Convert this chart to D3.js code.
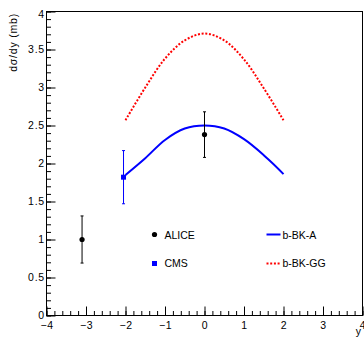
<!DOCTYPE html>
<html><head><meta charset="utf-8">
<script src="https://cdn.jsdelivr.net/npm/d3@7"></script>
<style>
html,body{margin:0;padding:0;background:#fff;}
svg{display:block;}
text{font-family:"Liberation Sans",Arial,sans-serif;fill:#000;}
</style></head>
<body>
<svg id="c" width="364" height="339"></svg>
<script>
// ---- data ----
const curveX = [-2, -1.5, -1, -0.5, 0, 0.5, 1, 1.5, 2];
const bkA    = [1.85, 2.07, 2.31, 2.46, 2.50, 2.46, 2.32, 2.11, 1.86];
const bkGG   = [2.57, 3.00, 3.38, 3.62, 3.71, 3.62, 3.37, 2.99, 2.57];
const aliceX = [-3.1, 0];
const aliceY = [1.0, 2.38];
const aliceErr = [0.31, 0.30];
const cmsX = [-2.05];
const cmsY = [1.82];
const cmsErr = [0.35];
const xTicks = [-4, -3, -2, -1, 0, 1, 2, 3, 4];
const yTicks = [0, 0.5, 1, 1.5, 2, 2.5, 3, 3.5, 4];
const legendNames = ["ALICE", "CMS", "b-BK-A", "b-BK-GG"];

const svg = d3.select("#c");
const x = d3.scaleLinear().domain([-4, 4]).range([46.5, 362.5]);
const y = d3.scaleLinear().domain([0, 4]).range([315.5, 11.5]);

// frame
svg.append("rect").attr("x", x(-4)).attr("y", y(4))
  .attr("width", x(4) - x(-4)).attr("height", y(0) - y(4))
  .attr("fill", "none").attr("stroke", "#000").attr("stroke-width", 1);

// minor ticks
const xMinor = d3.range(-4, 4.001, 0.2).map(v => +v.toFixed(2));
const yMinor = d3.range(0, 4.001, 0.1).map(v => +v.toFixed(2));
svg.append("g").attr("transform", `translate(0,${y(0)})`)
  .call(d3.axisBottom(x).tickValues(xMinor).tickSize(-4.5).tickFormat(""))
  .call(g => g.select(".domain").remove())
  .call(g => g.selectAll("line").attr("stroke", "#000"));
svg.append("g").attr("transform", `translate(${x(-4)},0)`)
  .call(d3.axisLeft(y).tickValues(yMinor).tickSize(-4.5).tickFormat(""))
  .call(g => g.select(".domain").remove())
  .call(g => g.selectAll("line").attr("stroke", "#000"));

// major ticks + labels
const fmtX = d => (d < 0 ? "\u2212" + Math.abs(d) : "" + d);
svg.append("g").attr("transform", `translate(0,${y(0)})`)
  .call(d3.axisBottom(x).tickValues(xTicks).tickSize(-9).tickPadding(5.5).tickFormat(fmtX))
  .call(g => g.select(".domain").remove())
  .call(g => g.selectAll("line").attr("stroke", "#000"))
  .call(g => g.selectAll("text").attr("font-size", "10.5px").attr("letter-spacing", "0.6px")
    .attr("font-family", '"Liberation Sans",Arial,sans-serif').attr("fill", "#000").attr("dy", "0.75em"));
svg.append("g").attr("transform", `translate(${x(-4)},0)`)
  .call(d3.axisLeft(y).tickValues(yTicks).tickSize(-9).tickPadding(1.5).tickFormat(d => "" + d))
  .call(g => g.select(".domain").remove())
  .call(g => g.selectAll("line").attr("stroke", "#000"))
  .call(g => g.selectAll("text").attr("font-size", "10.5px").attr("letter-spacing", "0.8px")
    .attr("font-family", '"Liberation Sans",Arial,sans-serif').attr("fill", "#000")
    .attr("dy", d => d === 4 ? "0.55em" : "0.32em"));

// axis titles
svg.append("text").attr("transform", "translate(17,13) rotate(-90)")
  .attr("text-anchor", "end").attr("font-size", "10.5px").attr("letter-spacing", "0.8px")
  .text("d\u03c3/dy (mb)");
svg.append("text").attr("x", 361).attr("y", 335).attr("text-anchor", "end")
  .attr("font-size", "10.5px").text("y");

// curves
const line = d3.line().x(d => x(d[0])).y(d => y(d[1])).curve(d3.curveCatmullRom);
svg.append("path").datum(curveX.map((v, i) => [v, bkGG[i]])).attr("d", line)
  .attr("fill", "none").attr("stroke", "#ff0000").attr("stroke-width", 2)
  .attr("stroke-dasharray", "2 1.7");
svg.append("path").datum(curveX.map((v, i) => [v, bkA[i]])).attr("d", line)
  .attr("fill", "none").attr("stroke", "#0000ff").attr("stroke-width", 2);

// CMS points
cmsX.forEach((v, i) => {
  const cx = x(v), cy = y(cmsY[i]);
  const g = svg.append("g").attr("stroke", "#0000ff").attr("stroke-width", 1);
  g.append("line").attr("x1", cx).attr("x2", cx).attr("y1", y(cmsY[i] + cmsErr[i])).attr("y2", y(cmsY[i] - cmsErr[i]));
  g.append("line").attr("x1", cx - 1.5).attr("x2", cx + 1.5).attr("y1", y(cmsY[i] + cmsErr[i])).attr("y2", y(cmsY[i] + cmsErr[i]));
  g.append("line").attr("x1", cx - 1.5).attr("x2", cx + 1.5).attr("y1", y(cmsY[i] - cmsErr[i])).attr("y2", y(cmsY[i] - cmsErr[i]));
  svg.append("rect").attr("x", cx - 2.5).attr("y", cy - 2.5).attr("width", 5).attr("height", 5).attr("fill", "#0000ff");
});

// ALICE points
aliceX.forEach((v, i) => {
  const cx = x(v), cy = y(aliceY[i]);
  const g = svg.append("g").attr("stroke", "#000").attr("stroke-width", 1);
  g.append("line").attr("x1", cx).attr("x2", cx).attr("y1", y(aliceY[i] + aliceErr[i])).attr("y2", y(aliceY[i] - aliceErr[i]));
  g.append("line").attr("x1", cx - 1.5).attr("x2", cx + 1.5).attr("y1", y(aliceY[i] + aliceErr[i])).attr("y2", y(aliceY[i] + aliceErr[i]));
  g.append("line").attr("x1", cx - 1.5).attr("x2", cx + 1.5).attr("y1", y(aliceY[i] - aliceErr[i])).attr("y2", y(aliceY[i] - aliceErr[i]));
  svg.append("circle").attr("cx", cx).attr("cy", cy).attr("r", 2.6).attr("fill", "#000");
});

// legend
const lg = svg.append("g");
lg.append("circle").attr("cx", 154.5).attr("cy", 234.5).attr("r", 2.6).attr("fill", "#000");
lg.append("text").attr("x", 164.5).attr("y", 238.8).attr("font-size", "10.5px").text(legendNames[0]);
lg.append("rect").attr("x", 152).attr("y", 261).attr("width", 5).attr("height", 5).attr("fill", "#0000ff");
lg.append("text").attr("x", 164.5).attr("y", 267.3).attr("font-size", "10.5px").text(legendNames[1]);
lg.append("line").attr("x1", 266.5).attr("x2", 280.5).attr("y1", 234.5).attr("y2", 234.5)
  .attr("stroke", "#0000ff").attr("stroke-width", 2);
lg.append("text").attr("x", 282.5).attr("y", 238.8).attr("font-size", "10.5px").text(legendNames[2]);
lg.append("line").attr("x1", 266.5).attr("x2", 280.5).attr("y1", 263.5).attr("y2", 263.5)
  .attr("stroke", "#ff0000").attr("stroke-width", 2).attr("stroke-dasharray", "2 1.7");
lg.append("text").attr("x", 282.5).attr("y", 267.3).attr("font-size", "10.5px").text(legendNames[3]);
</script>
</body></html>
